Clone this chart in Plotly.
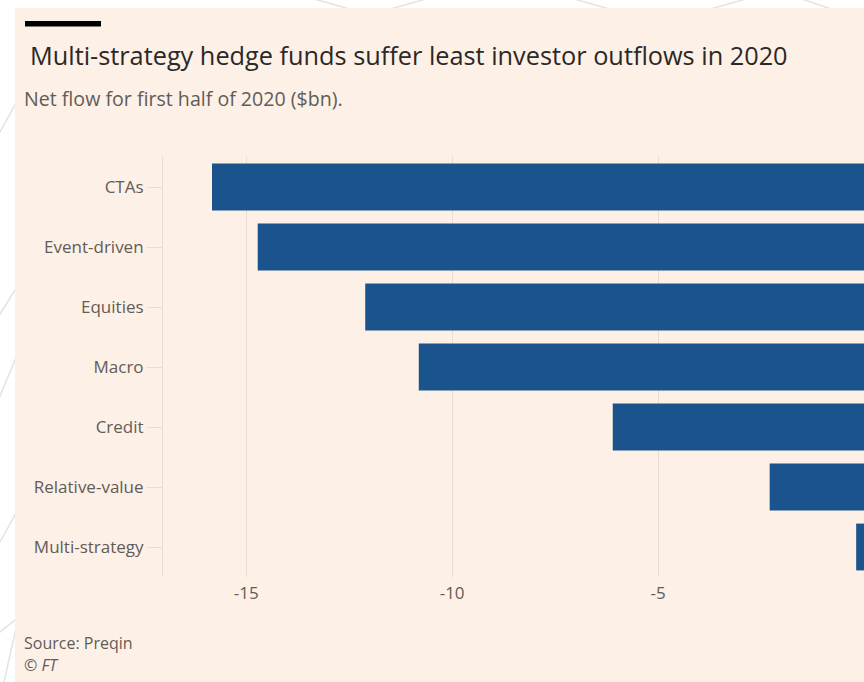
import plotly.graph_objects as go

# Net flow for first half of 2020, $bn
categories = ["CTAs", "Event-driven", "Equities", "Macro", "Credit",
              "Relative-value", "Multi-strategy"]
net_flow = [-15.83, -14.72, -12.11, -10.81, -6.10, -2.29, -0.19]
x_ticks = [-15, -10, -5, 0]
x_tick_labels = ["-15", "-10", "-5", "0"]

W, H = 864, 682
L, R, T, B = 163, 0, 157, 105
PW, PH = W - L - R, H - T - B

BAR = "#1b538d"
PINK = "#fdf0e6"
GRID = "#e9ddd2"
TEXT = "#2b2826"
MUTED = "#625c57"
FONT = "Open Sans"


def px(xp):
    return (xp - L) / PW


def py(yp):
    return (H - B - yp) / PH


fig = go.Figure(
    go.Bar(
        x=net_flow,
        y=categories,
        orientation="h",
        marker=dict(color=BAR, line=dict(width=0)),
        width=0.78,
        hoverinfo="x+y",
    )
)

shapes = []
# faint page pattern around the panel
for (x0, y0, x1, y1) in [(-10, 150, 40, 60), (-10, 330, 40, 250), (-10, 420, 40, 300),
                         (-10, 560, 40, 470), (-10, 640, 40, 600), (0, 700, 40, 520),
                         (300, -5, 360, 12), (380, 12, 440, -5), (560, -5, 620, 12),
                         (700, 12, 760, -5), (790, -5, 840, 12)]:
    shapes.append(dict(type="line", xref="paper", yref="paper",
                       x0=px(x0), y0=py(y0), x1=px(x1), y1=py(y1),
                       line=dict(color="#e3e3e3", width=1.5), layer="below"))
# pink panel
shapes.append(dict(type="rect", xref="paper", yref="paper",
                   x0=px(15), x1=px(W + 5), y0=py(H + 5), y1=py(8),
                   fillcolor=PINK, line=dict(width=0), layer="below"))
# black title rule
shapes.append(dict(type="rect", xref="paper", yref="paper",
                   x0=px(25), x1=px(101), y0=py(26.5), y1=py(21),
                   fillcolor="#000000", line=dict(width=0), layer="above"))

annotations = [
    dict(text="Multi-strategy hedge funds suffer least investor outflows in 2020",
         xref="paper", yref="paper", x=px(28), y=py(55), xanchor="left", yanchor="middle",
         showarrow=False, font=dict(family=FONT, size=25.3, color=TEXT)),
    dict(text="Net flow for first half of 2020 ($bn).",
         xref="paper", yref="paper", x=px(22), y=py(98), xanchor="left", yanchor="middle",
         showarrow=False, font=dict(family=FONT, size=19.6, color=MUTED)),
    dict(text="Source: Preqin",
         xref="paper", yref="paper", x=px(22), y=py(643), xanchor="left", yanchor="middle",
         showarrow=False, font=dict(family=FONT, size=16, color=MUTED)),
    dict(text="<i>© FT</i>",
         xref="paper", yref="paper", x=px(22), y=py(665), xanchor="left", yanchor="middle",
         showarrow=False, font=dict(family=FONT, size=16, color=MUTED)),
]

fig.update_layout(
    width=W, height=H,
    margin=dict(l=L, r=R, t=T, b=B, pad=0),
    paper_bgcolor="#ffffff",
    plot_bgcolor="rgba(0,0,0,0)",
    showlegend=False,
    bargap=0.22,
    shapes=shapes,
    annotations=annotations,
    xaxis=dict(
        range=[-17.02, 0],
        tickvals=x_ticks, ticktext=x_tick_labels,
        showgrid=True, gridcolor=GRID, gridwidth=1,
        zeroline=False, showline=False, ticks="",
        ticklabelstandoff=4,
        tickfont=dict(family=FONT, size=17, color=MUTED),
        fixedrange=True,
    ),
    yaxis=dict(
        autorange="reversed",
        showgrid=False, zeroline=False,
        showline=True, linecolor=GRID, linewidth=1,
        ticks="outside", ticklen=15, tickcolor=GRID, tickwidth=1,
        tickfont=dict(family=FONT, size=17, color=MUTED),
        fixedrange=True,
    ),
)

fig.write_html("out.html")
